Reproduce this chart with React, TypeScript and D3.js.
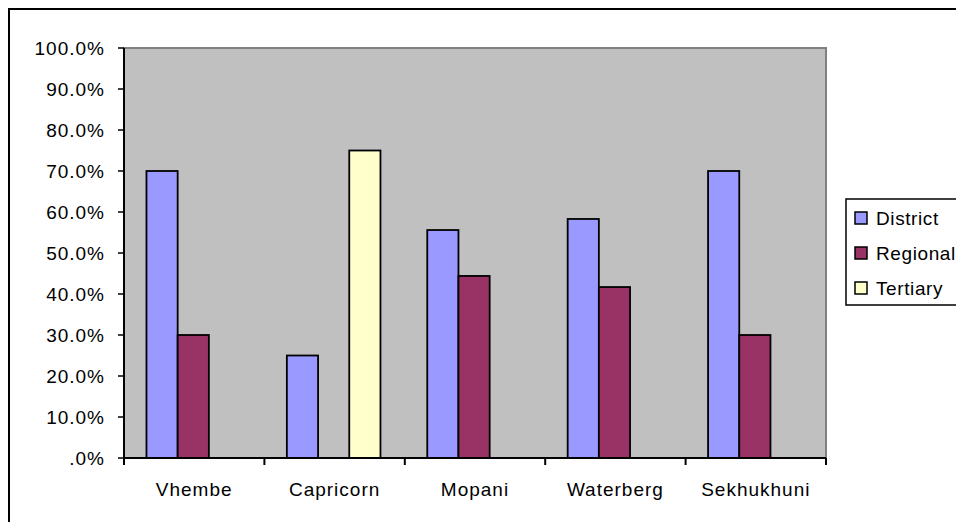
import React from "react";
import * as d3 from "d3";

const categories = ["Vhembe", "Capricorn", "Mopani", "Waterberg", "Sekhukhuni"];
const seriesNames = ["District", "Regional", "Tertiary"];
const district = [70.0, 25.0, 55.6, 58.3, 70.0];
const regional = [30.0, 0, 44.4, 41.7, 30.0];
const tertiary = [0, 75.0, 0, 0, 0];
const yTicks = [0, 10, 20, 30, 40, 50, 60, 70, 80, 90, 100];
const colors = ["#9999FF", "#993366", "#FFFFCC"];

const W = 956;
const H = 522;
const plot = { left: 124, top: 48, right: 826, bottom: 458 };
const FONT = "'Liberation Sans', Arial, sans-serif";

export default function App() {
  const series = [district, regional, tertiary];
  const x = d3
    .scaleBand<string>()
    .domain(categories)
    .range([plot.left, plot.right])
    .paddingInner(0)
    .paddingOuter(0);
  const bw = x.bandwidth() / 4.5;
  const y = d3.scaleLinear().domain([0, 100]).range([plot.bottom, plot.top]);
  const fmt = (v: number) => (v === 0 ? ".0%" : v.toFixed(1) + "%");

  const bars: React.ReactNode[] = [];
  categories.forEach((c, ci) => {
    series.forEach((s, si) => {
      const v = s[ci];
      if (!v) return;
      const x0 = (x(c) as number) + bw * 0.72 + si * bw;
      bars.push(
        <rect
          key={c + si}
          x={x0}
          y={y(v)}
          width={bw}
          height={y(0) - y(v)}
          fill={colors[si]}
          stroke="#000"
          strokeWidth={1.8}
        />
      );
    });
  });

  const xTickPos = categories.map((c) => x(c) as number).concat([plot.right]);

  return (
    <svg
      width={W}
      height={H}
      style={{ position: "fixed", left: 0, top: 0, display: "block", background: "#fff" }}
      fontFamily={FONT}
    >
      <rect x={0} y={0} width={W} height={H} fill="#fff" />
      {/* outer chart border */}
      <rect x={9} y={9} width={980} height={540} fill="none" stroke="#000" strokeWidth={2} />
      {/* plot area */}
      <rect
        x={plot.left}
        y={plot.top}
        width={plot.right - plot.left}
        height={plot.bottom - plot.top}
        fill="#C0C0C0"
        stroke="#808080"
        strokeWidth={2}
      />
      {bars}
      {/* y axis */}
      <line x1={plot.left} x2={plot.left} y1={plot.top} y2={plot.bottom} stroke="#000" strokeWidth={2} />
      {yTicks.map((t) => (
        <g key={t}>
          <line x1={plot.left - 6} x2={plot.left} y1={y(t)} y2={y(t)} stroke="#000" strokeWidth={1.5} />
          <text
            x={105}
            y={y(t)}
            dy="0.36em"
            textAnchor="end"
            fontSize={19}
            letterSpacing={1}
            fill="#000"
          >
            {fmt(t)}
          </text>
        </g>
      ))}
      {/* x axis */}
      <line x1={plot.left} x2={plot.right} y1={plot.bottom} y2={plot.bottom} stroke="#000" strokeWidth={2} />
      {xTickPos.map((p, i) => (
        <line key={i} x1={p} x2={p} y1={plot.bottom} y2={plot.bottom + 7} stroke="#000" strokeWidth={2} />
      ))}
      {categories.map((c) => (
        <text
          key={c}
          x={(x(c) as number) + x.bandwidth() / 2}
          y={496}
          textAnchor="middle"
          fontSize={19}
          letterSpacing={1}
          fill="#000"
        >
          {c}
        </text>
      ))}
      {/* legend */}
      <rect x={846} y={199} width={130} height={106} fill="#fff" stroke="#000" strokeWidth={1.5} />
      {seriesNames.map((n, i) => (
        <g key={n}>
          <rect
            x={855}
            y={212 + i * 35}
            width={12}
            height={12}
            fill={colors[i]}
            stroke="#000"
            strokeWidth={1.5}
          />
          <text x={876} y={225 + i * 35} fontSize={19} letterSpacing={0.6} fill="#000">
            {n}
          </text>
        </g>
      ))}
    </svg>
  );
}
